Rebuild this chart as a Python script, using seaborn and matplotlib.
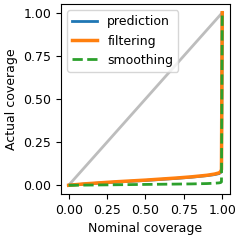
import numpy as np
import seaborn as sns
import matplotlib
matplotlib.use("Agg")
import matplotlib.pyplot as plt

# nominal coverage levels and the measured coverage for each method
nominal = [0.0, 0.1, 0.2, 0.3, 0.4, 0.5, 0.6, 0.7, 0.8, 0.9, 0.95, 0.98, 0.99, 0.995, 1.0]
prediction = [0.0, 0.007, 0.013, 0.018, 0.023, 0.028, 0.034, 0.040, 0.047, 0.056, 0.062, 0.068, 0.074, 0.085, 1.0]
filtering = [0.0, 0.008, 0.014, 0.020, 0.025, 0.030, 0.036, 0.042, 0.049, 0.058, 0.065, 0.072, 0.080, 0.092, 1.0]
smoothing = [0.0, 0.001, 0.002, 0.003, 0.004, 0.005, 0.006, 0.007, 0.008, 0.010, 0.012, 0.014, 0.016, 0.020, 1.0]

plt.rcParams["font.size"] = 9

fig, ax = plt.subplots(figsize=(2.4, 2.4), dpi=100)
ax.plot([0, 1], [0, 1], color="#bdbdbd", lw=2)
sns.lineplot(x=nominal, y=prediction, ax=ax, color="C0", lw=2, label="prediction")
sns.lineplot(x=nominal, y=filtering, ax=ax, color="C1", lw=2.5, label="filtering")
sns.lineplot(x=nominal, y=smoothing, ax=ax, color="C2", lw=2, ls="--", label="smoothing")

ax.set_xticks([0, 0.25, 0.5, 0.75, 1.0])
ax.set_yticks([0, 0.25, 0.5, 0.75, 1.0])
ax.set_xlabel("Nominal coverage")
ax.set_ylabel("Actual coverage")
ax.legend(loc="upper left")
fig.subplots_adjust(left=0.254, right=0.958, bottom=0.192, top=0.983)
fig.savefig("out.png")
